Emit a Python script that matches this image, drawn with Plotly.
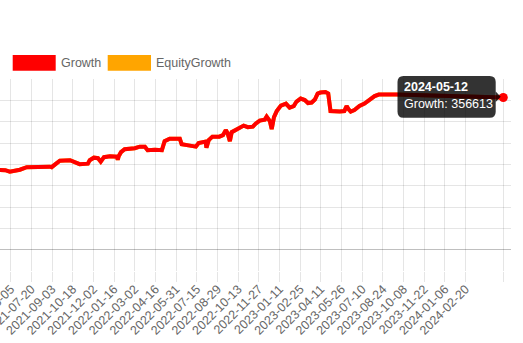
import plotly.graph_objects as go

# ---- data ----
dates = [
    "2021-05-01", "2021-05-13", "2021-05-24", "2021-06-03", "2021-06-14", "2021-06-25",
    "2021-07-10", "2021-07-27", "2021-08-29", "2021-09-02", "2021-09-09", "2021-09-20",
    "2021-10-12", "2021-10-22", "2021-11-02", "2021-11-20", "2021-11-24", "2021-12-03",
    "2021-12-12", "2021-12-18", "2021-12-25", "2022-01-07", "2022-01-22", "2022-01-24",
    "2022-01-26", "2022-01-31", "2022-02-08", "2022-03-02", "2022-03-13", "2022-03-24",
    "2022-03-30", "2022-04-15", "2022-04-30", "2022-05-06", "2022-05-17", "2022-06-08",
    "2022-06-12", "2022-06-30", "2022-07-13", "2022-07-19", "2022-07-26", "2022-08-03",
    "2022-08-05", "2022-08-10", "2022-08-18", "2022-09-02", "2022-09-10", "2022-09-16",
    "2022-09-20", "2022-09-25", "2022-09-29", "2022-10-08", "2022-10-17", "2022-10-25",
    "2022-11-03", "2022-11-14", "2022-11-20", "2022-11-29", "2022-12-10", "2022-12-14",
    "2022-12-21", "2022-12-25", "2022-12-30", "2023-01-05", "2023-01-14", "2023-01-25",
    "2023-02-02", "2023-02-11", "2023-02-17", "2023-02-26", "2023-03-07", "2023-03-14",
    "2023-03-22", "2023-03-29", "2023-04-04", "2023-04-10", "2023-04-21", "2023-04-27",
    "2023-05-02", "2023-05-11", "2023-05-22", "2023-06-01", "2023-06-06", "2023-06-10",
    "2023-06-15", "2023-06-23", "2023-07-04", "2023-07-15", "2023-07-26", "2023-08-06",
    "2023-08-15", "2023-09-08", "2023-09-23", "2024-01-16", "2024-05-12",
]
growth = [
    187400, 187400, 186200, 182700, 183900, 187400,
    193300, 194500, 194500, 193300, 200300, 208600,
    209700, 206200, 200300, 201500, 209700, 215600,
    214400, 206200, 216800, 219100, 217900, 210900,
    219100, 228500, 235600, 237900, 241400, 241400,
    233200, 234400, 233200, 254300, 260200, 260200,
    247300, 243800, 241400, 249700, 252000, 253200,
    239100, 256700, 264900, 264900, 268400, 280200,
    273100, 254300, 275500, 280200, 287200, 290800,
    287200, 288400, 295400, 302500, 304800, 311900,
    301300, 282500, 310700, 324800, 337700, 342400,
    333000, 336600, 347100, 354200, 350600, 343600,
    344800, 351800, 365900, 368300, 369400, 365900,
    324800, 323600, 323600, 324800, 336600, 329500,
    323600, 327100, 336600, 342400, 351800, 360000,
    363600, 363600, 363600, 360000, 356613,
]
equity_growth = list(growth)

tick_labels = [
    "2021-06-05", "2021-07-20", "2021-09-03", "2021-10-18", "2021-12-02",
    "2022-01-16", "2022-03-02", "2022-04-16", "2022-05-31", "2022-07-15",
    "2022-08-29", "2022-10-13", "2022-11-27", "2023-01-11", "2023-02-25",
    "2023-04-11", "2023-05-26", "2023-07-10", "2023-08-24", "2023-10-08",
    "2023-11-22", "2024-01-06", "2024-02-20",
]
series_names = ["Growth", "EquityGrowth"]
series_colors = ["#ff0000", "#ffa500"]

# ---- layout geometry (pixels) ----
W, H = 523, 343
ML, MR, MT, MB = 0, 12, 79, 72
PW, PH = W - ML - MR, H - MT - MB


def px(x):
    return (x - ML) / PW


def py(y):
    return (H - MB - y) / PH


def rounded_path(x0, y0, x1, y1, r):
    X0, X1 = px(x0), px(x1)
    Y0, Y1 = py(y0), py(y1)  # Y0 top (larger), Y1 bottom
    rx, ry = r / PW, r / PH
    return (
        f"M{X0+rx},{Y0} L{X1-rx},{Y0} Q{X1},{Y0} {X1},{Y0-ry} "
        f"L{X1},{Y1+ry} Q{X1},{Y1} {X1-rx},{Y1} L{X0+rx},{Y1} "
        f"Q{X0},{Y1} {X0},{Y1+ry} L{X0},{Y0-ry} Q{X0},{Y0} {X0+rx},{Y0} Z"
    )


fig = go.Figure()
fig.add_trace(go.Scatter(x=dates, y=equity_growth, mode="lines", name=series_names[1],
                         line=dict(color=series_colors[1], width=4), hoverinfo="skip"))
fig.add_trace(go.Scatter(x=dates, y=growth, mode="lines", name=series_names[0],
                         line=dict(color=series_colors[0], width=4), hoverinfo="skip"))
fig.add_trace(go.Scatter(x=[dates[-1]], y=[growth[-1]], mode="markers",
                         marker=dict(color=series_colors[0], size=9), hoverinfo="skip"))

font_family = "Liberation Sans, Arial, Helvetica, sans-serif"
grid = "rgba(0,0,0,0.1)"

shapes = []
annotations = []
# legend
leg = [(12.7, 55.7, 61), (107.7, 151, 156)]
for (bx0, bx1, tx), name, col in zip(leg, series_names, series_colors):
    shapes.append(dict(type="rect", xref="paper", yref="paper", x0=px(bx0), x1=px(bx1),
                       y0=py(70.7), y1=py(55), fillcolor=col, line=dict(width=0)))
    annotations.append(dict(xref="paper", yref="paper", x=px(tx - 2), y=py(62.5),
                            xanchor="left", yanchor="middle", showarrow=False, text=name,
                            font=dict(family=font_family, size=12.5, color="#666666")))
# tooltip
shapes.append(dict(type="path", xref="paper", yref="paper",
                   path=rounded_path(397.5, 76, 495.7, 117.7, 6),
                   fillcolor="rgba(0,0,0,0.8)", line=dict(width=0)))
shapes.append(dict(type="path", xref="paper", yref="paper",
                   path=f"M{px(495.7)},{py(91.5)} L{px(500.7)},{py(96.7)} L{px(495.7)},{py(101.9)} Z",
                   fillcolor="rgba(0,0,0,0.8)", line=dict(width=0)))
annotations.append(dict(xref="paper", yref="paper", x=px(401.5), y=py(86.8),
                        xanchor="left", yanchor="middle", showarrow=False,
                        text=f"<b>{dates[-1]}</b>",
                        font=dict(family=font_family, size=12.5, color="#ffffff")))
annotations.append(dict(xref="paper", yref="paper", x=px(401.5), y=py(104.2),
                        xanchor="left", yanchor="middle", showarrow=False,
                        text=f"{series_names[0]}: {growth[-1]}",
                        font=dict(family=font_family, size=12.5, color="#ffffff")))

fig.update_layout(
    width=W, height=H,
    margin=dict(l=ML, r=MR, t=MT, b=MB, pad=0),
    paper_bgcolor="white", plot_bgcolor="white",
    showlegend=False,
    shapes=shapes, annotations=annotations,
    xaxis=dict(
        type="date",
        range=["2021-05-12 17:00", "2024-05-28 19:00"],
        tickvals=tick_labels + [dates[-1]],
        ticktext=tick_labels + [""],
        tickangle=-45,
        ticks="outside", ticklen=10, tickcolor=grid, tickwidth=1,
        ticklabelstandoff=-5,
        showgrid=True, gridcolor=grid, gridwidth=1,
        tickfont=dict(family=font_family, size=12.5, color="#666666"),
        ticklabeloverflow="allow",
        showline=False, zeroline=False, automargin=False,
    ),
    yaxis=dict(
        range=[-50000, 400000], dtick=50000, tick0=0,
        showgrid=True, gridcolor=grid, gridwidth=1,
        zeroline=True, zerolinecolor="rgba(0,0,0,0.25)", zerolinewidth=1,
        showticklabels=False, showline=False, automargin=False,
    ),
)

fig.write_html("out.html")
